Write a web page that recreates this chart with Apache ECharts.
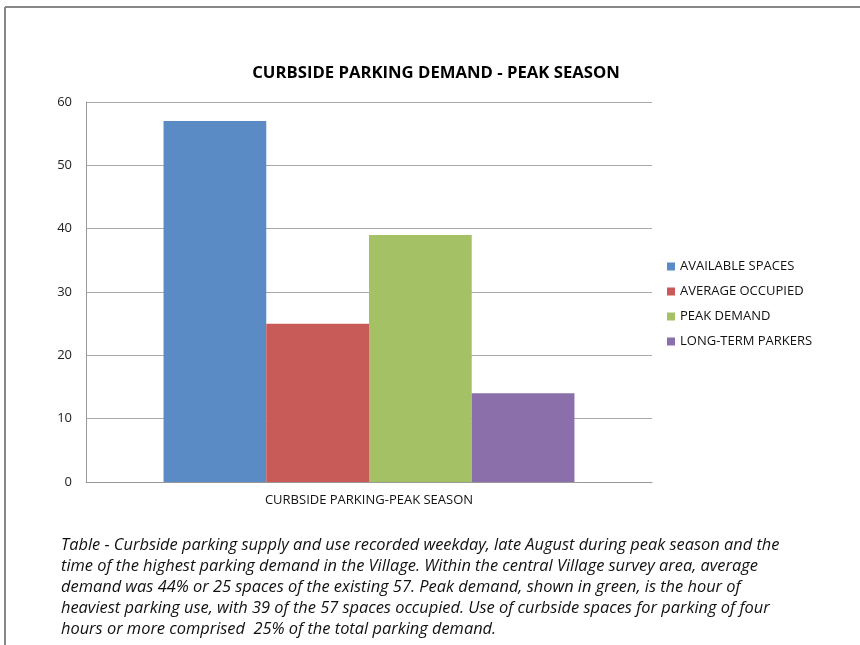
<!DOCTYPE html>
<html>
<head>
<meta charset="utf-8">
<script src="https://cdn.jsdelivr.net/npm/echarts@6/dist/echarts.min.js"></script>
<style>
  html, body { margin: 0; padding: 0; background: #fff; }
  #chart { width: 860px; height: 645px; }
</style>
</head>
<body>
<div id="chart"></div>
<script>
// data
const categories = ["CURBSIDE PARKING-PEAK SEASON"];
const seriesNames = ["AVAILABLE SPACES", "AVERAGE OCCUPIED", "PEAK DEMAND", "LONG-TERM PARKERS"];
const seriesValues = [[57], [25], [39], [14]];
const seriesColors = ["#5b8bc5", "#c85b57", "#a4c166", "#8a6fab"];
const yTicks = { min: 0, max: 60, interval: 10 };

const captionLines = [
  "Table - Curbside parking supply and use recorded weekday, late August during peak season and the",
  "time of the highest parking demand in the Village. Within the central Village survey area, average",
  "demand was 44% or 25 spaces of the existing 57. Peak demand, shown in green, is the hour of",
  "heaviest parking use, with 39 of the 57 spaces occupied. Use of curbside spaces for parking of four",
  "hours or more comprised  25% of the total parking demand."
];

const font = "'Open Sans', sans-serif";

const chart = echarts.init(document.getElementById("chart"));

const option = {
  animation: false,
  title: [
    {
      text: "CURBSIDE PARKING DEMAND - PEAK SEASON",
      left: 431,
      top: 60,
      textAlign: "center",
      textStyle: { fontFamily: font, fontSize: 16.7, fontWeight: "bold", color: "#000" }
    },
    {
      text: captionLines.join("\n"),
      left: 56,
      top: 530,
      textStyle: { fontFamily: font, fontSize: 16.4, fontStyle: "italic", fontWeight: "normal", color: "#111", lineHeight: 21 }
    }
  ],
  legend: {
    orient: "vertical",
    left: 662,
    top: 255,
    itemWidth: 8,
    itemHeight: 8,
    itemGap: 12,
    icon: "rect",
    textStyle: { fontFamily: font, fontSize: 13, color: "#111" },
    data: seriesNames
  },
  grid: { left: 86, right: 208, top: 102, bottom: 163 },
  xAxis: {
    type: "category",
    data: categories,
    axisLine: { lineStyle: { color: "#999" } },
    axisTick: { show: false },
    axisLabel: { fontFamily: font, fontSize: 13, color: "#111", margin: 12 }
  },
  yAxis: {
    type: "value",
    min: yTicks.min,
    max: yTicks.max,
    interval: yTicks.interval,
    axisLine: { show: true, lineStyle: { color: "#999" } },
    axisTick: { show: false },
    axisLabel: { fontFamily: font, fontSize: 13, color: "#222", margin: 14 },
    splitLine: { lineStyle: { color: "#aaa" } }
  },
  graphic: [
    { type: "line", shape: { x1: 5, y1: 7, x2: 860, y2: 7 }, style: { stroke: "#888", lineWidth: 2 } },
    { type: "line", shape: { x1: 5, y1: 7, x2: 5, y2: 645 }, style: { stroke: "#888", lineWidth: 2 } }
  ],
  series: seriesNames.map((name, i) => ({
    name: name,
    type: "bar",
    data: seriesValues[i],
    itemStyle: { color: seriesColors[i] },
    barGap: "0%",
    barCategoryGap: "27.4%"
  }))
};

chart.setOption(option);
</script>
</body>
</html>
